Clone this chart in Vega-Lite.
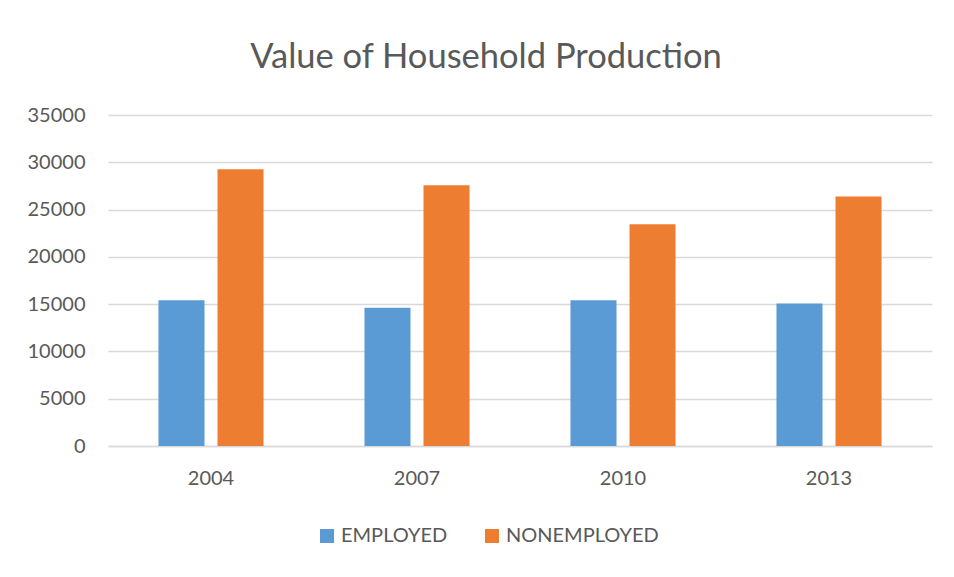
{
  "$schema": "https://vega.github.io/schema/vega-lite/v6.json",
  "width": 824,
  "height": 331,
  "autosize": {"type": "none"},
  "padding": {"left": 108, "top": 115, "right": 22, "bottom": 131},
  "background": "white",
  "title": {
    "text": "Value of Household Production",
    "font": "Lato",
    "fontSize": 34.5,
    "fontWeight": "normal",
    "color": "#595959",
    "anchor": "middle",
    "frame": "group",
    "baseline": "alphabetic",
    "offset": 3,
    "dx": -34
  },
  "data": {
    "values": [
      {"year": "2004", "group": "EMPLOYED", "value": 15420},
      {"year": "2004", "group": "NONEMPLOYED", "value": 29260},
      {"year": "2007", "group": "EMPLOYED", "value": 14610},
      {"year": "2007", "group": "NONEMPLOYED", "value": 27570},
      {"year": "2010", "group": "EMPLOYED", "value": 15420},
      {"year": "2010", "group": "NONEMPLOYED", "value": 23450},
      {"year": "2013", "group": "EMPLOYED", "value": 15070},
      {"year": "2013", "group": "NONEMPLOYED", "value": 26370}
    ]
  },
  "mark": {"type": "bar"},
  "encoding": {
    "x": {
      "field": "year",
      "type": "nominal",
      "scale": {"paddingInner": 0.49, "paddingOuter": 0.245},
      "axis": {
        "title": null,
        "labelAngle": 0,
        "labelFont": "Lato",
        "labelFontSize": 20,
        "labelColor": "#595959",
        "labelPadding": 22,
        "ticks": false,
        "domainColor": "#D9D9D9",
        "domainWidth": 1.5,
        "grid": false
      }
    },
    "xOffset": {
      "field": "group",
      "type": "nominal",
      "scale": {"paddingInner": 0.22, "paddingOuter": 0}
    },
    "y": {
      "field": "value",
      "type": "quantitative",
      "scale": {"domain": [0, 35000], "nice": false},
      "axis": {
        "title": null,
        "values": [0, 5000, 10000, 15000, 20000, 25000, 30000, 35000],
        "format": "d",
        "labelFont": "Lato",
        "labelFontSize": 20,
        "labelColor": "#595959",
        "labelPadding": 23,
        "ticks": false,
        "domain": false,
        "grid": true,
        "gridColor": "#D9D9D9",
        "gridWidth": 1.5
      }
    },
    "color": {
      "field": "group",
      "type": "nominal",
      "scale": {"domain": ["EMPLOYED", "NONEMPLOYED"], "range": ["#5B9BD5", "#ED7D31"]},
      "legend": {
        "title": null,
        "orient": "none",
        "direction": "horizontal",
        "legendX": 209,
        "legendY": 411,
        "symbolType": "square",
        "symbolSize": 196,
        "symbolStrokeWidth": 0,
        "labelFont": "Lato",
        "labelFontSize": 20,
        "labelColor": "#595959",
        "labelOffset": 4,
        "columnPadding": 34,
        "labelLimit": 300
      }
    }
  },
  "config": {
    "view": {"stroke": null}
  }
}
